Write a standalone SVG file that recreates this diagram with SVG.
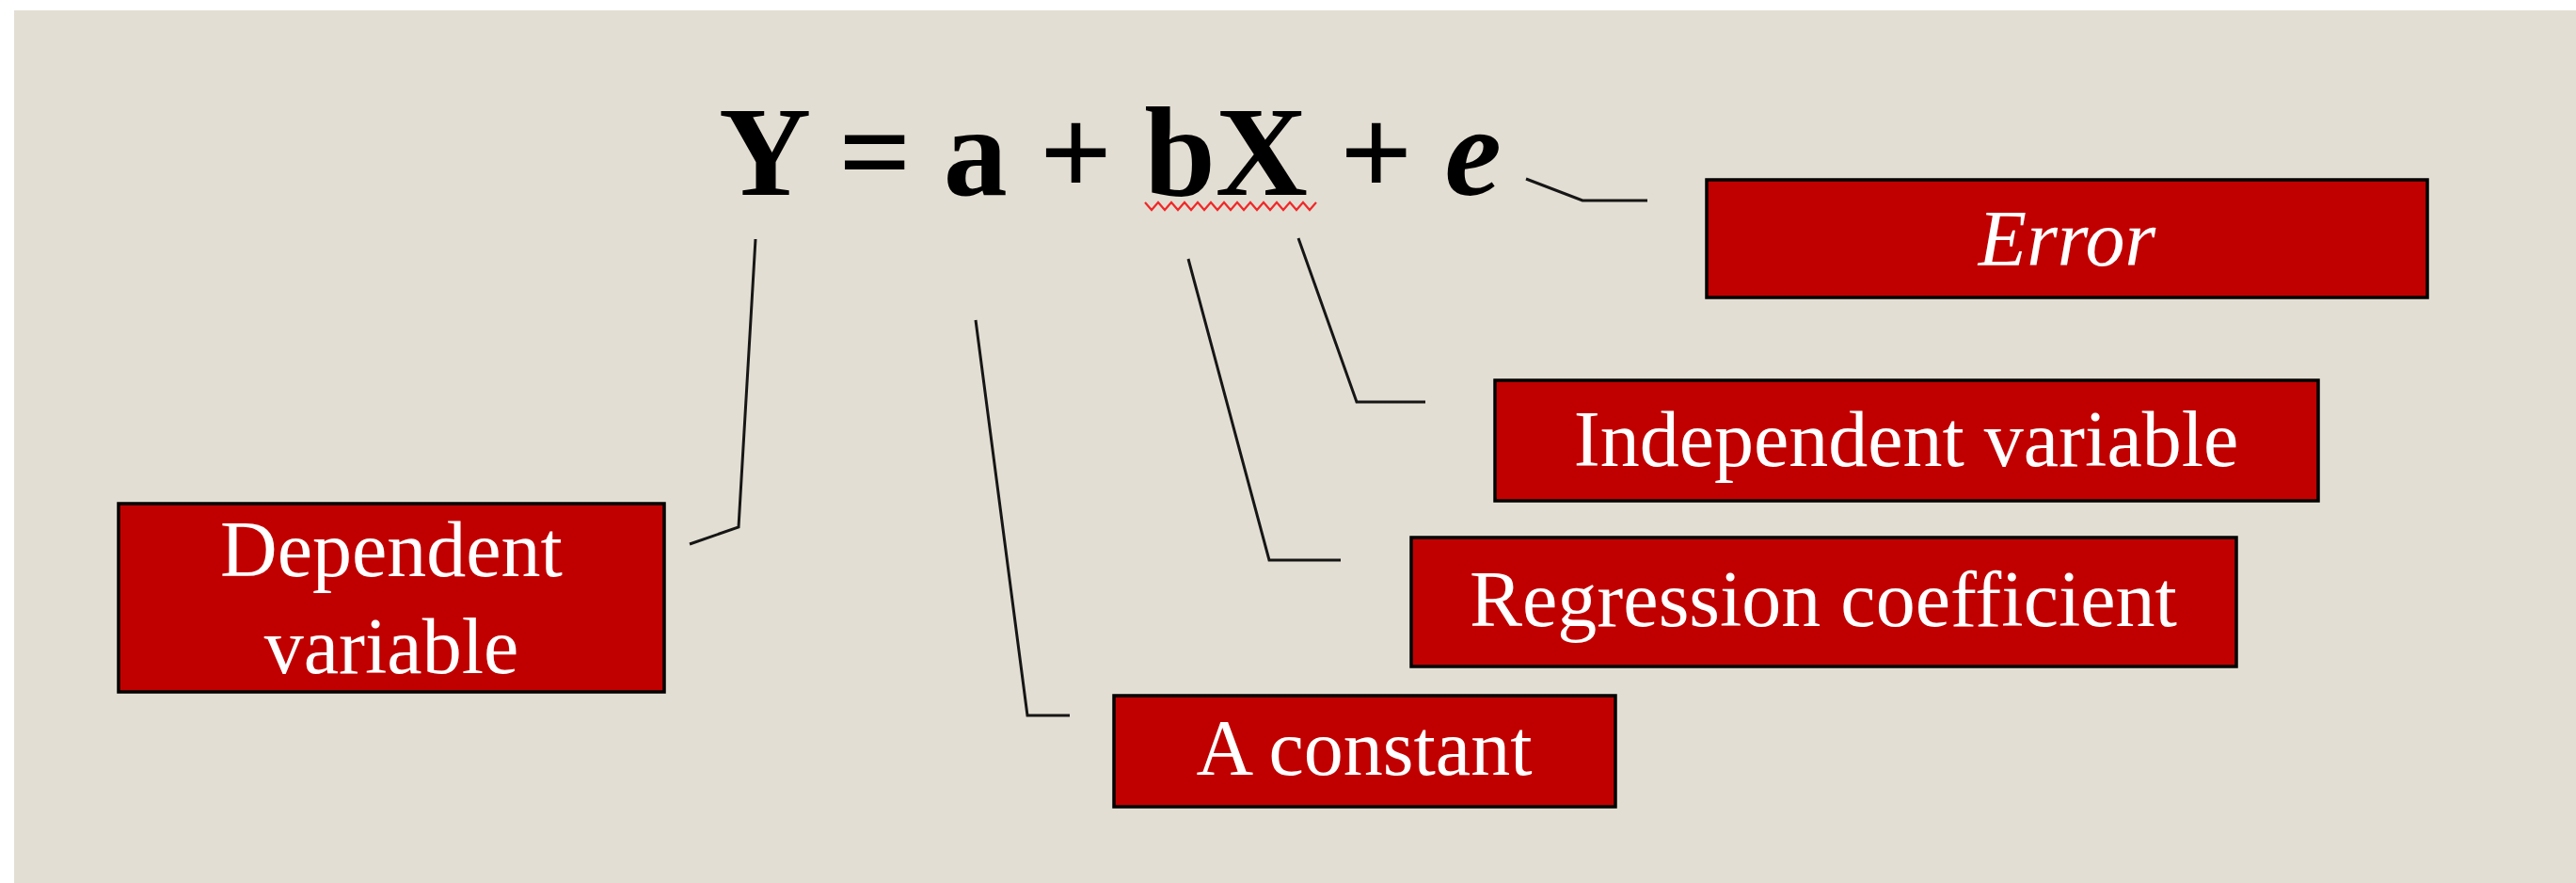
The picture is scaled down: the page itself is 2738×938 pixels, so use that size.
<svg xmlns="http://www.w3.org/2000/svg" width="2738" height="938" viewBox="0 0 2738 938">
<style>
.box{fill:#C00000;stroke:#000;stroke-width:3.5}
.lbl{font-family:"Liberation Serif","Times New Roman",serif;font-size:84px;fill:#fff;text-anchor:middle}
.eq{font-family:"Liberation Serif","Times New Roman",serif;font-size:136px;font-weight:bold;fill:#000}
.conn{fill:none;stroke:#161616;stroke-width:3;stroke-linejoin:miter}
</style>
<rect x="0" y="0" width="2738" height="938" fill="#fff"/>
<rect x="15" y="11" width="2723" height="927" fill="#E3DED3"/>
<g id="equation">
<text class="eq" x="764" y="207">Y = a + bX + <tspan font-style="italic">e</tspan></text>
<polyline fill="none" stroke="#F02828" stroke-width="2.2" points="1217,215 1224,223 1231,215 1238,223 1245,215 1252,223 1259,215 1266,223 1273,215 1280,223 1287,215 1294,223 1301,215 1308,223 1315,215 1322,223 1329,215 1336,223 1343,215 1350,223 1357,215 1364,223 1371,215 1378,223 1385,215 1392,223 1399,215"/>
</g>
<g id="connectors">
<polyline class="conn" points="803,254 785,560 733,578"/>
<polyline class="conn" points="1037,340 1092,760 1137,760"/>
<polyline class="conn" points="1263,275 1349,595 1425,595"/>
<polyline class="conn" points="1380,253 1442,427 1515,427"/>
<polyline class="conn" points="1622,190 1682,213 1751,213"/>
</g>
<g id="dependent">
<rect class="box" x="126" y="535" width="580" height="200"/>
<text class="lbl" x="416" y="612">Dependent</text>
<text class="lbl" x="416" y="715">variable</text>
</g>
<g id="constant">
<rect class="box" x="1184" y="739" width="533" height="118"/>
<text class="lbl" x="1450" y="823">A constant</text>
</g>
<g id="regression">
<rect class="box" x="1500" y="571" width="877" height="137"/>
<text class="lbl" x="1938" y="665">Regression coefficient</text>
</g>
<g id="independent">
<rect class="box" x="1589" y="404" width="875" height="128"/>
<text class="lbl" x="2026" y="495">Independent variable</text>
</g>
<g id="error">
<rect class="box" x="1814" y="191" width="766" height="125"/>
<text class="lbl" x="2197" y="282" font-style="italic">Error</text>
</g>
</svg>
